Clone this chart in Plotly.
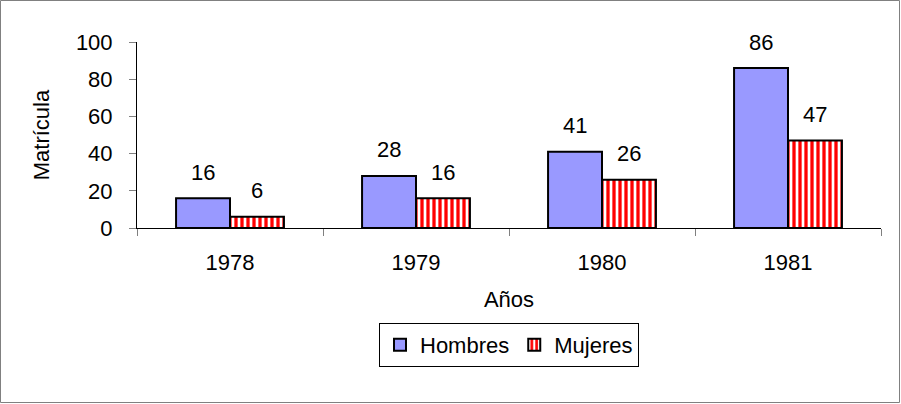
import plotly.graph_objects as go

years = ["1978", "1979", "1980", "1981"]
hombres = [16, 28, 41, 86]
mujeres = [6, 16, 26, 47]
y_ticks = [0, 20, 40, 60, 80, 100]

FONT = "Liberation Sans, Arial, sans-serif"
FS = 22

fig = go.Figure()
fig.add_trace(go.Bar(
    name="Hombres", x=years, y=hombres,
    marker=dict(color="#9999FF", line=dict(color="black", width=2)),
))
fig.add_trace(go.Bar(
    name="Mujeres", x=years, y=mujeres,
    marker=dict(color="white", line=dict(color="black", width=2),
                pattern=dict(shape="|", fgcolor="#FF0000", bgcolor="white", fgopacity=1,
                             size=6, solidity=0.55, fillmode="replace")),
))

annotations = []
for i, (h, m) in enumerate(zip(hombres, mujeres)):
    annotations.append(dict(x=i, y=h, text=str(h), xref="x", yref="y", showarrow=False,
                            xshift=-27, yshift=26, font=dict(size=FS, color="black", family=FONT)))
    annotations.append(dict(x=i, y=m, text=str(m), xref="x", yref="y", showarrow=False,
                            xshift=27, yshift=26, font=dict(size=FS, color="black", family=FONT)))

W, H = 901, 404
L, R, T, B = 137, 20, 42, 176
pw, ph = W - L - R, H - T - B

fig.update_layout(
    width=W, height=H,
    margin=dict(l=L, r=R, t=T, b=B, autoexpand=False),
    paper_bgcolor="white", plot_bgcolor="white",
    font=dict(family=FONT, size=FS, color="black"),
    barmode="group", bargap=0.42, bargroupgap=0,
    showlegend=True,
    legend=dict(orientation="h", x=0.5, xanchor="center",
                y=(T + ph - 345) / ph, yanchor="middle",
                bordercolor="black", borderwidth=1,
                font=dict(size=FS, family=FONT)),
    annotations=annotations,
    shapes=[dict(type="rect", xref="paper", yref="paper",
                 x0=(0.5 - L) / pw, x1=(W - 1.5 - L) / pw,
                 y0=(T + ph - (H - 1.5)) / ph, y1=(T + ph - 0.5) / ph,
                 line=dict(color="#808080", width=1), layer="below")],
)
fig.update_xaxes(
    type="category", range=[-0.5, len(years) - 0.5],
    showline=True, linecolor="black", linewidth=1,
    ticks="outside", tickson="boundaries", ticklen=7, tickcolor="#808080",
    showgrid=False, tickfont=dict(size=FS), tickangle=0, ticklabelstandoff=15,
    title=dict(text="Años", font=dict(size=FS), standoff=17),
)
fig.update_yaxes(
    range=[0, 100], tickvals=y_ticks, showline=True, linecolor="black", linewidth=1,
    ticks="outside", ticklen=7, tickcolor="#808080", showgrid=False, zeroline=False,
    tickfont=dict(size=FS), ticklabelstandoff=12,
    title=dict(text="Matrícula", font=dict(size=FS), standoff=20),
)

fig.write_html("out.html", config={"displayModeBar": False},
               post_script="document.body.style.margin='0';")
